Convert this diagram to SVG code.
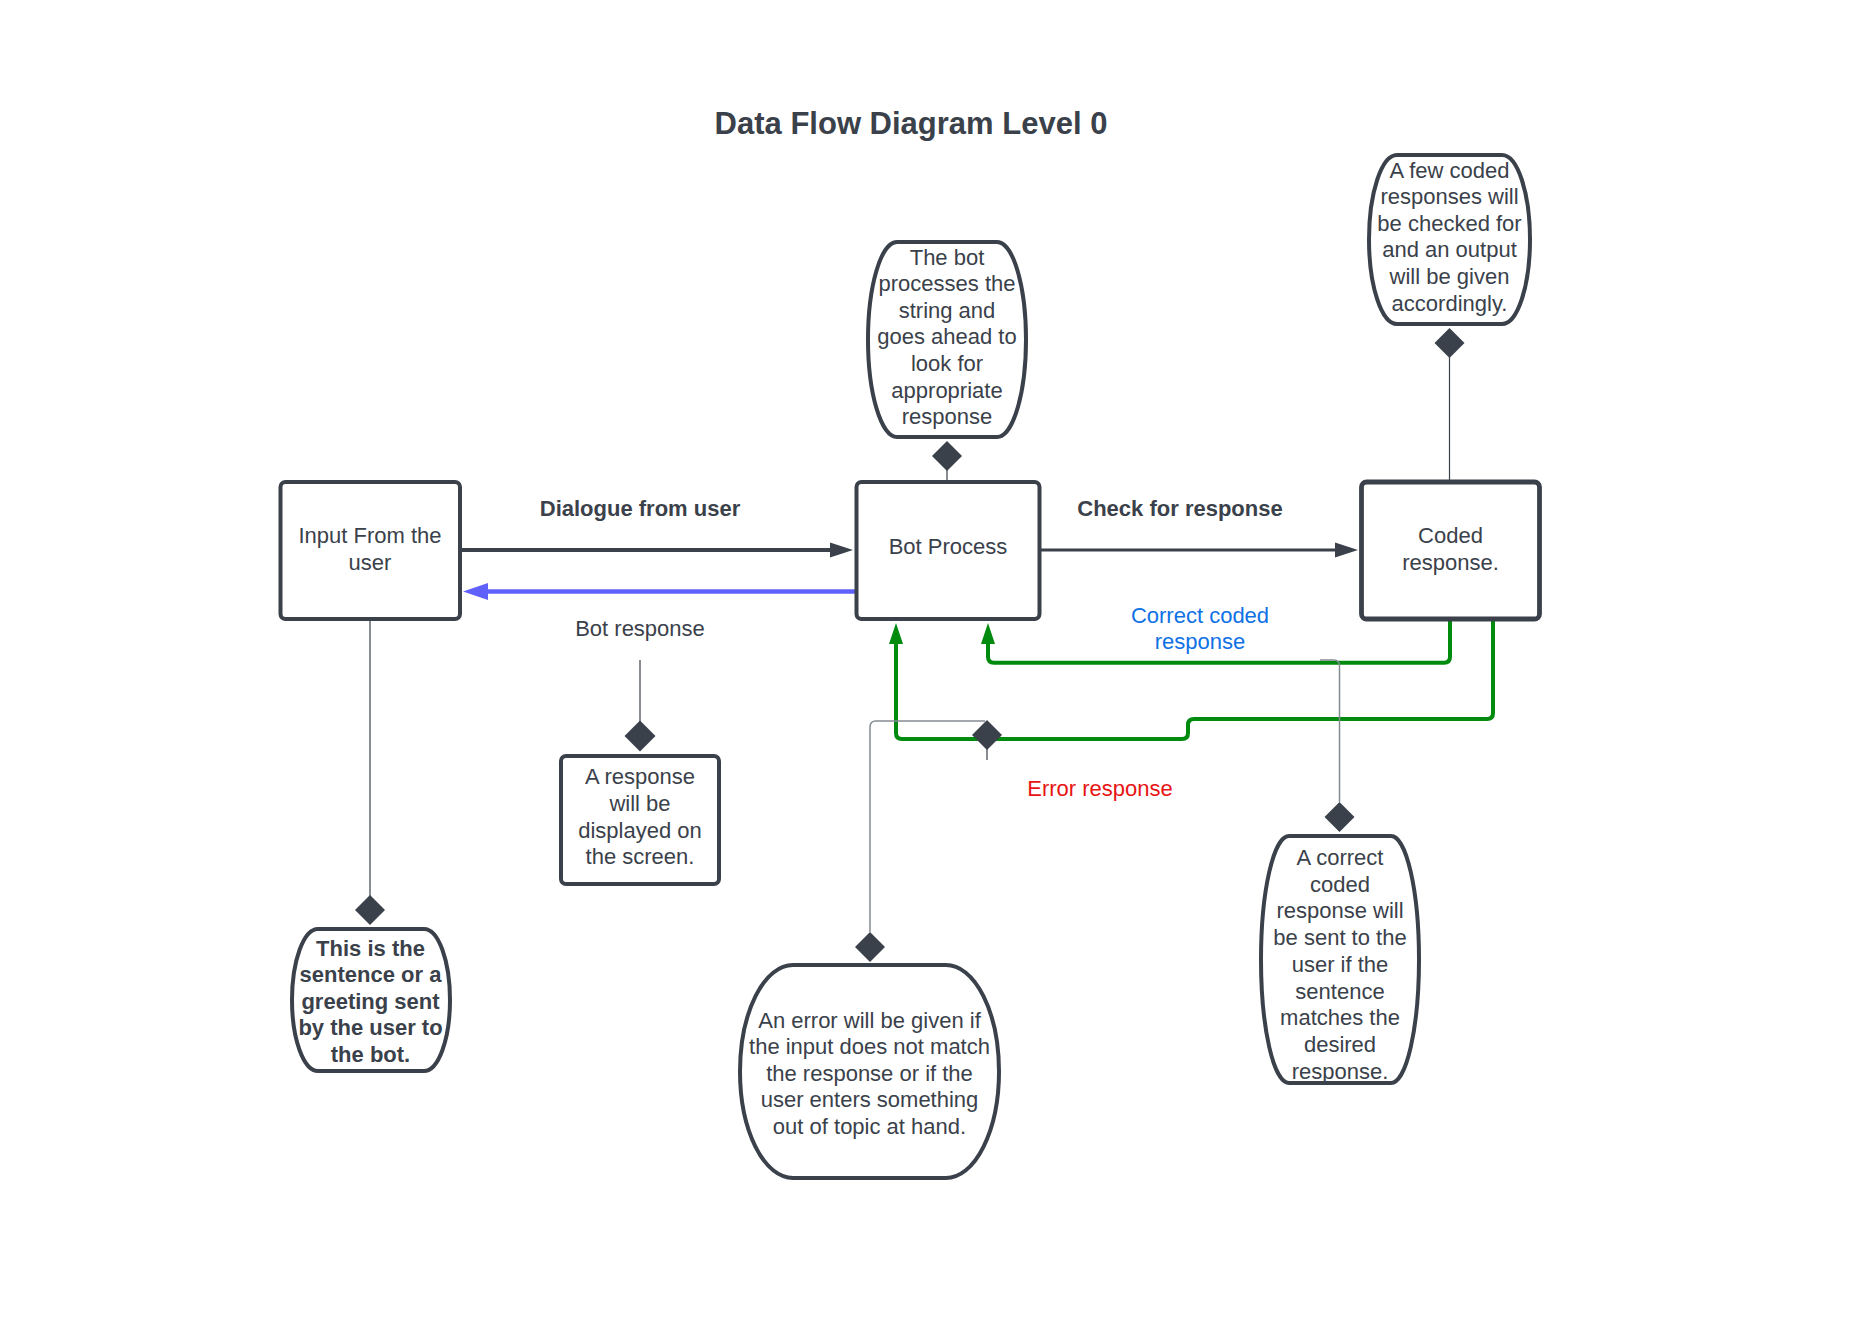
<svg xmlns="http://www.w3.org/2000/svg" width="1870" height="1322" viewBox="0 0 1870 1322">
<style>
text{font-family:"Liberation Sans",Arial,sans-serif;font-size:22px;fill:#3a414a;text-anchor:middle}
.b{font-weight:bold}
.shape{fill:#fff;stroke:#3a414a;stroke-width:4;stroke-linejoin:round}
.dm{fill:#3a414a}
.thin{fill:none;stroke:#3a414a;stroke-width:1.2}
.gray{fill:none;stroke:#868b92;stroke-width:1.5}
.grn{fill:none;stroke:#008a0e;stroke-width:4;stroke-linejoin:round}
</style>
<rect width="1870" height="1322" fill="#fff"/>
<text class="b" x="911" y="134" style="font-size:31px">Data Flow Diagram Level 0</text>

<g id="connectors">
<line x1="461" y1="550" x2="836" y2="550" stroke="#3a414a" stroke-width="4"/>
<polygon points="853,550 830,542.5 830,557.5" fill="#3a414a"/>
<line x1="1041" y1="550" x2="1340" y2="550" stroke="#3a414a" stroke-width="3"/>
<polygon points="1358,550 1335,542.5 1335,557.5" fill="#3a414a"/>
<line x1="855" y1="591.5" x2="482" y2="591.5" stroke="#6060fa" stroke-width="4.5"/>
<polygon points="463,591.5 488,583 488,600" fill="#6060fa"/>
<path class="grn" d="M1450 621 V656.7 Q1450 662.7 1444 662.7 H994 Q988 662.7 988 656.7 V640"/>
<polygon points="988,623 981,644 995,644" fill="#008a0e"/>
<path class="grn" d="M1493 621 V713 Q1493 719 1487 719 H1194 Q1188 719 1188 725 V733 Q1188 739 1182 739 H902 Q896 739 896 733 V640"/>
<polygon points="896,623 889,644 903,644" fill="#008a0e"/>
<line class="thin" x1="947" y1="470" x2="947" y2="481"/>
<line class="thin" x1="1449.5" y1="357" x2="1449.5" y2="481"/>
<line class="thin" x1="640" y1="660" x2="640" y2="722"/>
<line class="thin" x1="370" y1="620" x2="370" y2="896"/>
<path class="gray" d="M870 932 V727 Q870 721 876 721 H985"/>
<path class="gray" d="M1339.5 802 V666 Q1339.5 660 1333.5 660 H1320"/>
<line class="thin" x1="987" y1="749" x2="987" y2="760" stroke-width="1.5"/>
<polygon class="dm" points="947,441 962,456 947,471 932,456"/>
<polygon class="dm" points="1449.5,328 1464.5,343 1449.5,358 1434.5,343"/>
<polygon class="dm" points="640,720.5 655.5,736 640,751.5 624.5,736"/>
<polygon class="dm" points="370,895 385,910 370,925 355,910"/>
<polygon class="dm" points="870,932 885,947 870,962 855,947"/>
<polygon class="dm" points="1339.5,802 1354.5,817 1339.5,832 1324.5,817"/>
<polygon class="dm" points="987,720 1002,735 987,750 972,735"/>
<text class="b" x="640" y="515.5">Dialogue from user</text>
<text class="b" x="1180" y="515.5">Check for response</text>
<text x="640" y="636">Bot response</text>
<text x="1200" y="623" style="fill:#1071e5">Correct coded</text>
<text x="1200" y="649" style="fill:#1071e5">response</text>
<text x="1100" y="796" style="fill:#e81313">Error response</text>
</g>

<g id="input">
<rect class="shape" x="280.5" y="482" width="179.5" height="137" rx="5"/>
<text x="370" y="543">Input From the</text>
<text x="370" y="569.5">user</text>
</g>

<g id="bot-process">
<rect class="shape" x="856.5" y="482" width="183" height="137" rx="5"/>
<text x="948" y="554">Bot Process</text>
</g>

<g id="coded-response">
<rect class="shape" x="1361.5" y="482" width="178" height="137" rx="5" style="stroke-width:4.8"/>
<text x="1450.5" y="543">Coded</text>
<text x="1450.5" y="569.5">response.</text>
</g>

<g id="display-note">
<rect class="shape" x="561" y="756" width="158" height="128" rx="5"/>
<text x="640" y="784">A response</text>
<text x="640" y="811">will be</text>
<text x="640" y="837.5">displayed on</text>
<text x="640" y="864">the screen.</text>
</g>

<g id="bot-note">
<rect class="shape" x="868" y="242" width="158" height="195" rx="29" ry="97.5"/>
<text x="947" y="264.5">The bot</text>
<text x="947" y="291">processes the</text>
<text x="947" y="317.7">string and</text>
<text x="947" y="344.3">goes ahead to</text>
<text x="947" y="371">look for</text>
<text x="947" y="397.6">appropriate</text>
<text x="947" y="424.3">response</text>
</g>

<g id="coded-note">
<rect class="shape" x="1369" y="155" width="161" height="169" rx="28" ry="84.5"/>
<text x="1449.5" y="177.5">A few coded</text>
<text x="1449.5" y="204.1">responses will</text>
<text x="1449.5" y="230.7">be checked for</text>
<text x="1449.5" y="257.3">and an output</text>
<text x="1449.5" y="283.9">will be given</text>
<text x="1449.5" y="310.5">accordingly.</text>
</g>

<g id="input-note">
<rect class="shape" x="292" y="929" width="158" height="142" rx="26" ry="71"/>
<text class="b" x="370.5" y="955.5">This is the</text>
<text class="b" x="370.5" y="982">sentence or a</text>
<text class="b" x="370.5" y="1008.7">greeting sent</text>
<text class="b" x="370.5" y="1035.3">by the user to</text>
<text class="b" x="370.5" y="1062">the bot.</text>
</g>

<g id="error-note">
<rect class="shape" x="740" y="965" width="259" height="213" rx="53" ry="106.5"/>
<text x="869.5" y="1027.5">An error will be given if</text>
<text x="869.5" y="1054">the input does not match</text>
<text x="869.5" y="1080.5">the response or if the</text>
<text x="869.5" y="1107.2">user enters something</text>
<text x="869.5" y="1133.8">out of topic at hand.</text>
</g>

<g id="correct-note">
<rect class="shape" x="1261" y="836" width="158" height="247" rx="28" ry="123.5"/>
<text x="1340" y="865">A correct</text>
<text x="1340" y="891.7">coded</text>
<text x="1340" y="918.4">response will</text>
<text x="1340" y="945.1">be sent to the</text>
<text x="1340" y="971.8">user if the</text>
<text x="1340" y="998.5">sentence</text>
<text x="1340" y="1025.2">matches the</text>
<text x="1340" y="1051.9">desired</text>
<text x="1340" y="1078.6">response.</text>
</g>
</svg>
